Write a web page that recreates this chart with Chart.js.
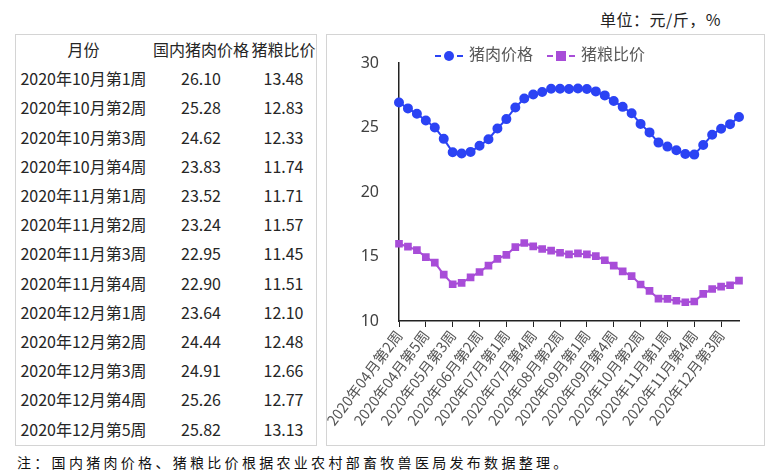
<!DOCTYPE html>
<html>
<head>
<meta charset="utf-8">
<script src="https://cdn.jsdelivr.net/npm/chart.js@4/dist/chart.umd.min.js"></script>
<style>
  body { margin: 0; width: 777px; height: 474px; background: #fff; position: relative; overflow: hidden;
         font-family: "Noto Sans CJK SC", "Noto Sans", sans-serif; color: #262626; }
  #unit { position: absolute; left: 600px; top: 7px; font-size: 16px; letter-spacing: 0.5px; color: #222; }
  #tableBox { position: absolute; left: 15px; top: 34px; width: 300px; height: 410px; border: 1.5px solid #d4d4d4; }
  #tableBox table { border-collapse: collapse; font-size: 16px; }
  #tableBox td { height: 29.2px; padding: 0; text-align: center; white-space: nowrap; line-height: 29.2px; }
  #chartBox { position: absolute; left: 326px; top: 34px; width: 437px; height: 410px; border: 1.5px solid #d4d4d4; }
  #chartBox canvas { position: absolute; left: 0; top: 0; }
  #legend { position: absolute; left: 108px; top: 6px; font-size: 16px; color: #595959; white-space: nowrap; }
  #legend .item { display: inline-block; margin-right: 14px; }
  #legend .mk { display: inline-block; width: 28px; height: 10px; position: relative; vertical-align: middle; margin-right: 6px; }
  #legend .mk i { position: absolute; top: 4px; height: 2px; width: 6px; }
  #legend .mk b { position: absolute; left: 9px; top: 0; width: 10px; height: 10px; }
  #note { position: absolute; left: 17px; top: 452px; font-size: 14px; letter-spacing: 3.3px; color: #111; }
</style>
</head>
<body>
<div id="unit">单位：元/斤，%</div>
<div id="tableBox"><table id="tbl"></table></div>
<div id="chartBox">
  <canvas id="c" width="437" height="410"></canvas>
  <div id="legend"></div>
</div>
<div id="note">注：国内猪肉价格、猪粮比价根据农业农村部畜牧兽医局发布数据整理。</div>
<script>
// weekly series, 2020 April week 2 .. December week 5
const weeks = [
  '2020年04月第2周', '2020年04月第3周', '2020年04月第4周', '2020年04月第5周',
  '2020年05月第1周', '2020年05月第2周', '2020年05月第3周', '2020年05月第4周',
  '2020年06月第1周', '2020年06月第2周', '2020年06月第3周', '2020年06月第4周',
  '2020年07月第1周', '2020年07月第2周', '2020年07月第3周', '2020年07月第4周', '2020年07月第5周',
  '2020年08月第1周', '2020年08月第2周', '2020年08月第3周', '2020年08月第4周',
  '2020年09月第1周', '2020年09月第2周', '2020年09月第3周', '2020年09月第4周', '2020年09月第5周',
  '2020年10月第1周', '2020年10月第2周', '2020年10月第3周', '2020年10月第4周',
  '2020年11月第1周', '2020年11月第2周', '2020年11月第3周', '2020年11月第4周',
  '2020年12月第1周', '2020年12月第2周', '2020年12月第3周', '2020年12月第4周', '2020年12月第5周',
];

const porkPrice = [
  26.94, 26.48, 26.06, 25.54, 25.00, 24.12, 23.08, 22.98, 23.11, 23.58,
  24.09, 24.92, 25.65, 26.55, 27.25, 27.56, 27.75, 28.00, 28.00, 27.98,
  28.03, 27.98, 27.80, 27.49, 27.05, 26.60, 26.10, 25.28, 24.62, 23.83,
  23.52, 23.24, 22.95, 22.90, 23.64, 24.44, 24.91, 25.26, 25.82,
];

const hogGrainRatio = [
  15.99, 15.76, 15.50, 14.95, 14.53, 13.59, 12.85, 12.96, 13.38, 13.80,
  14.29, 14.82, 15.13, 15.73, 16.05, 15.79, 15.58, 15.45, 15.29, 15.16,
  15.24, 15.16, 15.03, 14.71, 14.29, 13.85, 13.48, 12.83, 12.33, 11.74,
  11.71, 11.57, 11.45, 11.51, 12.10, 12.48, 12.66, 12.77, 13.13,
];

const yTicks = [10, 15, 20, 25, 30];
const seriesNames = ['猪肉价格', '猪粮比价'];
const tableHeader = ['月份', '国内猪肉价格', '猪粮比价'];
const tableStart = 26; // table lists Oct wk1 .. Dec wk5

const BLUE = '#2B43F4';
const PURPLE = '#A84DD8';

// left-hand table, built from the same arrays
const tbl = document.getElementById('tbl');
const widths = [135, 100, 65];
let html = '<tr>' + tableHeader.map((h, i) => `<td style="width:${widths[i]}px">${h}</td>`).join('') + '</tr>';
for (let i = tableStart; i < weeks.length; i++) {
  html += `<tr><td>${weeks[i]}</td><td>${porkPrice[i].toFixed(2)}</td><td>${hogGrainRatio[i].toFixed(2)}</td></tr>`;
}
tbl.innerHTML = html;

// legend drawn as "-●- name" like the source
const marker = (color, round) =>
  `<span class="mk"><i style="left:0;background:${color}"></i>` +
  `<b style="background:${color};border-radius:${round ? '50%' : '0'}"></b>` +
  `<i style="right:0;background:${color}"></i></span>`;
document.getElementById('legend').innerHTML =
  `<span class="item">${marker(BLUE, true)}${seriesNames[0]}</span>` +
  `<span class="item">${marker(PURPLE, false)}${seriesNames[1]}</span>`;

new Chart(document.getElementById('c'), {
  type: 'line',
  data: {
    labels: weeks,
    datasets: [
      {
        label: seriesNames[0],
        data: porkPrice,
        borderColor: BLUE,
        backgroundColor: BLUE,
        borderWidth: 2,
        pointStyle: 'circle',
        pointRadius: 4,
        tension: 0,
      },
      {
        label: seriesNames[1],
        data: hogGrainRatio,
        borderColor: PURPLE,
        backgroundColor: PURPLE,
        borderWidth: 2,
        pointStyle: 'rect',
        pointRadius: 4,
        tension: 0,
      },
    ],
  },
  options: {
    responsive: false,
    animation: false,
    layout: { padding: { top: 28, right: 25, left: 0, bottom: 0 } },
    plugins: {
      legend: { display: false },
      tooltip: { enabled: false },
    },
    scales: {
      x: {
        offset: false,
        grid: { drawOnChartArea: false, drawTicks: true, tickLength: 6, color: '#222' },
        border: { color: '#222', width: 1.5 },
        ticks: {
          autoSkip: false,
          minRotation: 53,
          maxRotation: 53,
          color: '#555',
          font: { family: '"Noto Sans CJK SC", sans-serif', size: 14.5 },
          padding: 0,
          callback: (v, i) => (i % 3 === 0 ? weeks[i] : null),
        },
        afterFit: (s) => { s.height = 124; },
      },
      y: {
        min: yTicks[0],
        max: yTicks[yTicks.length - 1],
        afterBuildTicks: (s) => { s.ticks = yTicks.map((v) => ({ value: v })); },
        grid: { display: false },
        border: { color: '#222', width: 1.5 },
        ticks: {
          color: '#404040',
          font: { family: '"Noto Sans", sans-serif', size: 16 },
          padding: 12,
        },
        afterFit: (s) => { s.width = 72; },
      },
    },
  },
});
</script>
</body>
</html>
